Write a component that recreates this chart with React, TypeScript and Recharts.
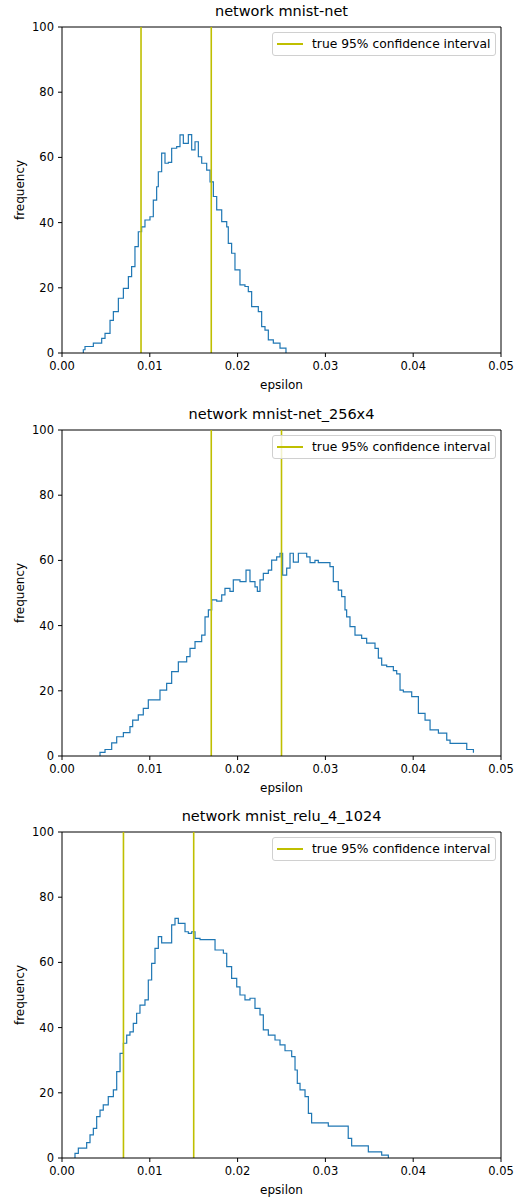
import React from 'react';
import { LineChart, Line, XAxis, YAxis, ReferenceLine } from 'recharts';

// panel titles and confidence interval bounds
const titles = ['network mnist-net', 'network mnist-net_256x4', 'network mnist_relu_4_1024'];
const intervals = [
  [0.009, 0.017],
  [0.017, 0.025],
  [0.007, 0.015],
];

const xTicks = [0, 0.01, 0.02, 0.03, 0.04, 0.05];
const yTicks = [0, 20, 40, 60, 80, 100];

// mnist-net
const eps1 = [0.00243, 0.00243, 0.00262, 0.00357, 0.00452, 0.0049, 0.00547, 0.00585, 0.00642, 0.00699, 0.00756, 0.00793, 0.00831, 0.00869, 0.00907, 0.00945, 0.01002, 0.0104, 0.01078, 0.01097, 0.01135, 0.01173, 0.01211, 0.01249, 0.01306, 0.01344, 0.01382, 0.01439, 0.01477, 0.01515, 0.01553, 0.01591, 0.01648, 0.01686, 0.01724, 0.01762, 0.01819, 0.01876, 0.01894, 0.01932, 0.0197, 0.02027, 0.02084, 0.02122, 0.0216, 0.02236, 0.02274, 0.02312, 0.0235, 0.02407, 0.02483, 0.02502, 0.02551];
const freq1 = [0, 1, 2, 3, 4.5, 6, 10, 12.7, 16.8, 19.8, 23.4, 26.5, 32.6, 37.2, 38.7, 40.8, 41.8, 46.9, 51, 55.6, 61.3, 58.2, 58.5, 62.8, 63.3, 66.9, 64.3, 67, 62.3, 64.8, 60.2, 58.2, 56.1, 52.5, 48, 43.9, 40.3, 38.7, 33.6, 30.6, 25.5, 20.9, 20.4, 18.8, 14.2, 12.7, 8.1, 7, 4, 3, 1.5, 1.5, 0];

// mnist-net_256x4
const eps2 = [0.00433, 0.00433, 0.0049, 0.00566, 0.00623, 0.00699, 0.00774, 0.00805, 0.00869, 0.00926, 0.00983, 0.01116, 0.01192, 0.01249, 0.01325, 0.0142, 0.01458, 0.01515, 0.01591, 0.01629, 0.01667, 0.01705, 0.01762, 0.01819, 0.01856, 0.01913, 0.01951, 0.02027, 0.02096, 0.02141, 0.02198, 0.02225, 0.02255, 0.02293, 0.0235, 0.02388, 0.02445, 0.02483, 0.02513, 0.02559, 0.02597, 0.02635, 0.02692, 0.02787, 0.02825, 0.02881, 0.02919, 0.03052, 0.0309, 0.03147, 0.03185, 0.03223, 0.03242, 0.0328, 0.03337, 0.03413, 0.0347, 0.03565, 0.03603, 0.03641, 0.03698, 0.03774, 0.03812, 0.0385, 0.03888, 0.03983, 0.04059, 0.04135, 0.04192, 0.04287, 0.04382, 0.0442, 0.0461, 0.04686];
const freq2 = [0, 1.1, 2, 4, 5.9, 7.2, 9, 11, 12.6, 14.6, 17.2, 20.2, 22.3, 25.9, 28.9, 30.5, 33, 35.1, 37.1, 42.7, 44.8, 47.9, 47.5, 49.4, 51.4, 50.5, 54, 53.5, 57, 53.5, 51.9, 50.5, 54, 56, 57, 60.1, 61.1, 62.2, 55.5, 57.6, 62.2, 59.5, 62.2, 61.1, 59.3, 60, 59.3, 58.1, 53.5, 50.9, 48.9, 44.8, 42.7, 39.7, 37.1, 36.1, 34.6, 33, 30, 27.9, 27.4, 26.2, 25.2, 20.2, 19.7, 18.2, 13.1, 11, 8, 7, 4.9, 3.9, 2, 1, 0];

// mnist_relu_4_1024
const eps3 = [0.00148, 0.00148, 0.00186, 0.00281, 0.00319, 0.00357, 0.00395, 0.00433, 0.0047, 0.00527, 0.00585, 0.00623, 0.00661, 0.00699, 0.00737, 0.00774, 0.00812, 0.0085, 0.00888, 0.00945, 0.00983, 0.01021, 0.01059, 0.01097, 0.01135, 0.01249, 0.01287, 0.01325, 0.01401, 0.01439, 0.01477, 0.01515, 0.01572, 0.01743, 0.01838, 0.01876, 0.01932, 0.0199, 0.02027, 0.02084, 0.02141, 0.02198, 0.02255, 0.02293, 0.0235, 0.02426, 0.02483, 0.0254, 0.02616, 0.02654, 0.0268, 0.02711, 0.02768, 0.02806, 0.02843, 0.03033, 0.0326, 0.03299, 0.03489, 0.03641, 0.03717];
const freq3 = [0, 1.4, 3, 4.7, 7.1, 9.1, 12.7, 14.7, 16.3, 18.8, 20.9, 26.5, 32.1, 35.2, 37.7, 38.7, 41.3, 44.4, 46.9, 48.5, 54.6, 59.7, 64.3, 67.9, 66, 71.5, 73.5, 72, 69.4, 68.9, 69.4, 67.4, 67, 63.8, 62.8, 58.7, 55.1, 52.5, 50, 48.5, 49, 45.9, 43.9, 39.3, 37.7, 36.2, 34.7, 32.9, 31.1, 27, 22.9, 20.9, 18.8, 13.7, 10.8, 9.8, 6, 3.7, 1.9, 0.9, 0];

const series = [
  { eps: eps1, freq: freq1 },
  { eps: eps2, freq: freq2 },
  { eps: eps3, freq: freq3 },
];

const FONT = '"DejaVu Sans", sans-serif';
const BLUE = '#1f77b4';
const OLIVE = '#bfbf00';

const Panel = ({ idx }: { idx: number }) => {
  const { eps, freq } = series[idx];
  const data = eps.map((e, i) => ({ eps: e, freq: freq[i] }));
  const [lo, hi] = intervals[idx];
  const tickStyle = { fontSize: 11.5, fill: '#000', fontFamily: FONT };
  const labelStyle = { fontSize: 12, fill: '#000', fontFamily: FONT };

  return (
    <div style={{ position: 'absolute', left: 0, top: idx * 402.5, width: 515, height: 401 }}>
      <div
        style={{
          position: 'absolute',
          left: 62,
          width: 439,
          top: 3,
          textAlign: 'center',
          fontFamily: FONT,
          fontSize: 14.5,
          color: '#000',
        }}
      >
        {titles[idx]}
      </div>
      <LineChart width={515} height={401} data={data} margin={{ top: 27, right: 14, bottom: 12, left: 10 }}>
        <XAxis
          dataKey="eps"
          type="number"
          domain={[0, 0.05]}
          ticks={xTicks}
          tickFormatter={(v: number) => v.toFixed(2)}
          tick={tickStyle}
          tickSize={4}
          tickMargin={5}
          stroke="#000"
          height={36}
          label={{ value: 'epsilon', position: 'insideBottom', offset: 0, style: labelStyle }}
        />
        <YAxis
          type="number"
          domain={[0, 100]}
          ticks={yTicks}
          tick={tickStyle}
          tickSize={4}
          tickMargin={4}
          stroke="#000"
          width={52}
          label={{ value: 'frequency', angle: -90, position: 'insideLeft', offset: 10, style: { ...labelStyle, textAnchor: 'middle' } }}
        />
        {/* top and right spines */}
        <ReferenceLine y={100} stroke="#000" strokeWidth={1} />
        <ReferenceLine x={0.05} stroke="#000" strokeWidth={1} />
        <Line
          dataKey="freq"
          type="stepAfter"
          stroke={BLUE}
          strokeWidth={1.2}
          dot={false}
          isAnimationActive={false}
        />
        <ReferenceLine x={lo} stroke={OLIVE} strokeWidth={1.6} />
        <ReferenceLine x={hi} stroke={OLIVE} strokeWidth={1.6} />
      </LineChart>
      <div
        style={{
          position: 'absolute',
          left: 272,
          top: 32,
          width: 222,
          height: 22,
          border: '1px solid #d0d0d0',
          borderRadius: 3,
          background: 'rgba(255,255,255,0.8)',
          display: 'flex',
          alignItems: 'center',
          fontFamily: FONT,
          fontSize: 12.3,
          color: '#000',
          whiteSpace: 'nowrap',
        }}
      >
        <div style={{ width: 26, height: 2, background: OLIVE, marginLeft: 4, marginRight: 9 }} />
        <span>true 95% confidence interval</span>
      </div>
    </div>
  );
};

const App = () => {
  return (
    <div style={{ position: 'absolute', left: 0, top: 0, width: 515, height: 1198, background: '#fff' }}>
      {titles.map((t, i) => (
        <Panel key={t} idx={i} />
      ))}
    </div>
  );
};

export default App;
